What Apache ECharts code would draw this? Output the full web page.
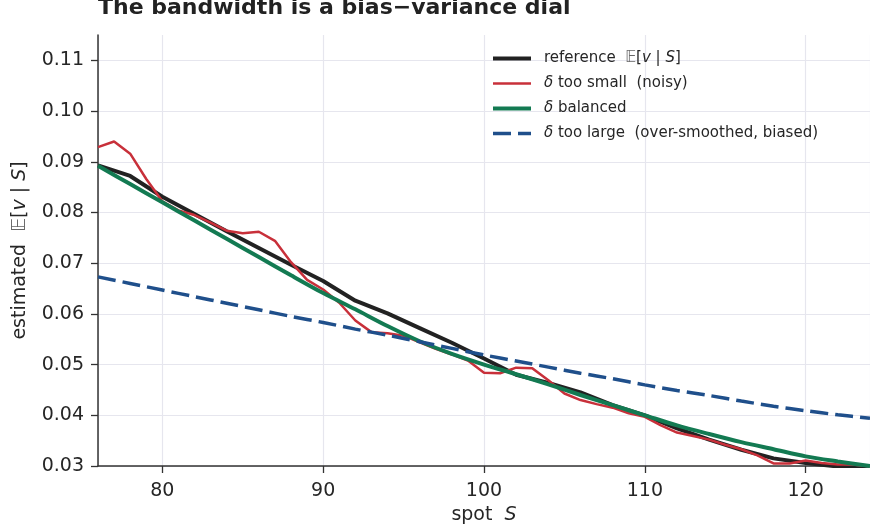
<!DOCTYPE html>
<html><head><meta charset="utf-8">
<script src="https://cdn.jsdelivr.net/npm/echarts@6/dist/echarts.min.js"></script>
<style>html,body{margin:0;padding:0;background:#fff}#c{width:870px;height:532px}</style>
</head><body><div id="c"></div>
<script>
// ---- data ----
const spotCoarse = [76,78,80,82,84,86,88,90,92,94,96,98,100,102,104,106,108,110,112,114,116,118,120,122,124];
const referenceVals = [0.0893,0.0872,0.0831,0.0797,0.0763,0.0730,0.0697,0.0665,0.0626,0.0601,0.0572,0.0543,0.0512,0.0480,0.0464,0.0445,0.0420,0.0400,0.0374,0.0352,0.0332,0.0315,0.0306,0.0299,0.0293];
const balancedVals = [0.0892,0.0856,0.0820,0.0784,0.0748,0.0712,0.0676,0.0641,0.0609,0.0576,0.0546,0.0521,0.0500,0.0481,0.0461,0.0440,0.0420,0.0400,0.0380,0.0363,0.0347,0.0333,0.0319,0.0309,0.0300];
const largeVals = [0.0673,0.0660,0.0647,0.0634,0.0621,0.0608,0.0595,0.0583,0.0570,0.0558,0.0545,0.0532,0.0519,0.0507,0.0495,0.0483,0.0472,0.0460,0.0449,0.0439,0.0428,0.0418,0.0409,0.0401,0.0394];
const spotFine = [76,77,78,79,80,81,82,83,84,85,86,87,88,89,90,91,92,93,94,95,96,97,98,99,100,101,102,103,104,105,106,107,108,109,110,111,112,113,114,115,116,117,118,119,120,121,122,123,124];
const smallVals = [0.0929,0.0940,0.0916,0.0866,0.0822,0.0804,0.0795,0.0780,0.0764,0.0759,0.0762,0.0744,0.0702,0.0667,0.0648,0.0622,0.0587,0.0564,0.0562,0.0557,0.0544,0.0531,0.0520,0.0508,0.0484,0.0483,0.0494,0.0493,0.0469,0.0443,0.0430,0.0422,0.0415,0.0404,0.0397,0.0380,0.0366,0.0359,0.0352,0.0342,0.0333,0.0321,0.0305,0.0305,0.0311,0.0306,0.0303,0.0303,0.0299];
const seriesNames = ['reference', 'small', 'balanced', 'large'];
const legendLabels = {
  reference: 'reference  {bb|𝔼}[{i|v} | {i|S}]',
  small: '{i|δ} too small  (noisy)',
  balanced: '{i|δ} balanced',
  large: '{i|δ} too large  (over-smoothed, biased)'
};
const yTicks = [0.03,0.04,0.05,0.06,0.07,0.08,0.09,0.10,0.11];

const zip = (xs, ys) => xs.map((x, k) => [x, ys[k]]);
const FONT = 'DejaVu Sans';
const TXT = '#262626';
const GRID = '#e6e6ee';

const chart = echarts.init(document.getElementById('c'), null, {renderer: 'canvas'});
chart.setOption({
  animation: false,
  backgroundColor: '#ffffff',
  textStyle: {fontFamily: FONT},
  title: {
    text: 'The bandwidth is a bias−variance dial',
    left: 93, top: -8,
    textStyle: {fontFamily: FONT, fontSize: 22, fontWeight: 'bold', color: '#222222'}
  },
  grid: {left: 98, right: -5, top: 35, bottom: 66, containLabel: false},
  legend: {
    left: 486, top: 46, orient: 'vertical',
    itemWidth: 38, itemHeight: 14, itemGap: 10,
    data: seriesNames,
    formatter: n => legendLabels[n],
    itemStyle: {opacity: 0, borderWidth: 0},
    lineStyle: {width: 'inherit'},
    textStyle: {
      fontFamily: FONT, fontSize: 15, color: TXT, padding: [0,0,0,8],
      rich: {
        i: {fontFamily: FONT, fontSize: 15, fontStyle: 'italic', color: TXT},
        bb: {fontFamily: FONT, fontSize: 15, color: '#666'}
      }
    }
  },
  xAxis: {
    type: 'value', min: 76, max: 124, splitNumber: 5,
    name: 'spot  {i|S}', nameLocation: 'middle', nameGap: 39,
    nameTextStyle: {fontFamily: FONT, fontSize: 19, color: TXT, rich: {i: {fontFamily: FONT, fontSize: 19, fontStyle: 'italic', color: TXT}}},
    axisLine: {show: true, onZero: false, lineStyle: {color: '#333333', width: 1.5}},
    axisTick: {show: true, length: 7, lineStyle: {color: '#333333', width: 1.3}},
    axisLabel: {fontFamily: FONT, fontSize: 19, color: TXT, margin: 16, showMinLabel: false, showMaxLabel: false},
    splitLine: {show: true, lineStyle: {color: GRID, width: 1.2}}
  },
  yAxis: {
    type: 'value', min: 0.03, max: 0.115, interval: 0.01,
    name: 'estimated  {bb|𝔼}[{i|v} | {i|S}]', nameLocation: 'middle', nameGap: 68,
    nameTextStyle: {fontFamily: FONT, fontSize: 19, color: TXT, rich: {
      i: {fontFamily: FONT, fontSize: 19, fontStyle: 'italic', color: TXT},
      bb: {fontFamily: FONT, fontSize: 19, color: '#666'}
    }},
    axisLine: {show: true, onZero: false, lineStyle: {color: '#333333', width: 1.5}},
    axisTick: {show: true, length: 7, lineStyle: {color: '#333333', width: 1.3}},
    axisLabel: {fontFamily: FONT, fontSize: 19, color: TXT, margin: 14, showMaxLabel: false,
      formatter: v => yTicks.some(t => Math.abs(t - v) < 1e-9) ? v.toFixed(2) : ''},
    splitLine: {show: true, lineStyle: {color: yTicks.map(() => GRID).concat(['rgba(0,0,0,0)']), width: 1.2}}
  },
  series: [
    {name: 'reference', type: 'line', data: zip(spotCoarse, referenceVals), showSymbol: false, symbol: 'circle',
     lineStyle: {color: '#222222', width: 4}, itemStyle: {color: '#222222'}, z: 2},
    {name: 'small', type: 'line', data: zip(spotFine, smallVals), showSymbol: false, symbol: 'circle',
     lineStyle: {color: '#c8303a', width: 2.5}, itemStyle: {color: '#c8303a'}, z: 3},
    {name: 'balanced', type: 'line', data: zip(spotCoarse, balancedVals), showSymbol: false, symbol: 'circle', smooth: 0.3,
     lineStyle: {color: '#137a52', width: 4}, itemStyle: {color: '#137a52'}, z: 4},
    {name: 'large', type: 'line', data: zip(spotCoarse, largeVals), showSymbol: false, symbol: 'circle', smooth: 0.3,
     lineStyle: {color: '#1f4f8b', width: 3.5, type: [18, 7]}, itemStyle: {color: '#1f4f8b'}, z: 5}
  ]
});
</script>
</body></html>
